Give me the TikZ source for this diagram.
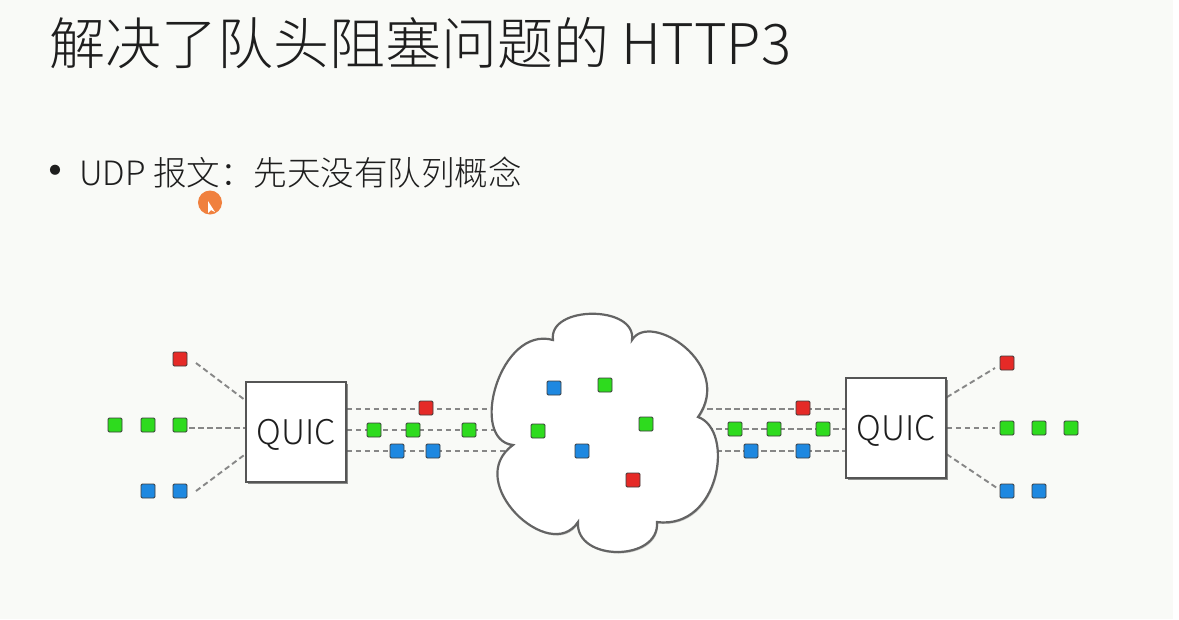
\documentclass[tikz,border=0pt]{standalone}
\usepackage{fontspec}
\setmainfont{Noto Sans CJK SC}
\newfontfamily\lightcjk{Noto Sans CJK SC Light}
\usetikzlibrary{calc,shadows}
\definecolor{bgc}{RGB}{249,250,247}
\definecolor{txtc}{RGB}{30,30,30}
\definecolor{boxc}{RGB}{85,85,85}
\definecolor{cloudc}{RGB}{100,100,100}
\definecolor{dashc}{RGB}{135,135,135}
\definecolor{pktb}{RGB}{60,60,60}
\definecolor{redc}{RGB}{229,42,39}
\definecolor{greenc}{RGB}{46,219,30}
\definecolor{bluec}{RGB}{30,136,224}
\definecolor{cursorc}{RGB}{240,128,62}
\tikzset{
  qbox/.style={draw=boxc, fill=white, line width=1.5pt, minimum width=100pt, minimum height=100pt,
    inner sep=0pt, text height=24pt, text depth=0pt, text=txtc, font=\lightcjk\fontsize{34}{40}\selectfont,
    drop shadow={shadow xshift=1.5pt, shadow yshift=-1.5pt, opacity=0.25, fill=black}},
  pkt/.style={draw=pktb, line width=0.9pt, minimum size=14pt, inner sep=0pt, rounded corners=1.2pt},
  rp/.style={pkt, fill=redc},
  gp/.style={pkt, fill=greenc},
  bp/.style={pkt, fill=bluec},
  dl/.style={draw=dashc, line width=1.9pt, dash pattern=on 5.5pt off 3.5pt},
  cloudst/.style={fill=white, draw=cloudc, line width=2.2pt,
    drop shadow={shadow xshift=1pt, shadow yshift=-1.5pt, opacity=0.2, fill=black}}
}
\begin{document}
\begin{tikzpicture}[x=1pt,y=-1pt]
\fill[bgc] (0,0) rectangle (1179,619);
\fill[white] (1173,0) rectangle (1179,619);
\useasboundingbox (0,0) rectangle (1179,619);

% title and bullet
\node[anchor=base west, inner sep=0pt, text=txtc, font=\lightcjk\fontsize{56}{60}\selectfont] (title) at (49,64) {解决了队头阻塞问题的 HTTP3};
\node[anchor=base, inner sep=0pt, text=txtc, font=\fontsize{48}{52}\selectfont] (bul) at (55,188) {•};
\node[anchor=base west, inner sep=0pt, text=txtc, font=\lightcjk\fontsize{33.5}{38}\selectfont] (btxt) at (79,185) {UDP 报文：先天没有队列概念};

% cursor
\fill[cursorc] (210,202.5) circle (12pt);
\fill[white] (208,201) -- (208,213) -- (211,210) -- (215,212) -- cycle;

% boxes (placed first for anchors; drawn again on top)
\path (296,432) node[qbox] (qa) {QUIC};
\path (896,428) node[qbox] (qb) {QUIC};

% coordinates
\coordinate (lr) at (196,363);
\coordinate (lg) at (189,428);
\coordinate (lb) at (196,491);
\coordinate (c1) at (545,409);
\coordinate (c2) at (545,430);
\coordinate (c3) at (545,451);
\coordinate (d1) at (680,409);
\coordinate (d2) at (680,429);
\coordinate (d3) at (680,451);
\coordinate (rr) at (995,368);
\coordinate (rg) at (995,428);
\coordinate (rb) at (997,488);

% left inputs
\draw[dl] (lr) -- ($(qa.north west)+(0,19)$);
\draw[dl] (lg) -- (qa.west |- lg);
\draw[dl] (lb) -- ($(qa.north west)+(0,73)$);
% left box to cloud
\draw[dl] (qa.east |- c1) -- (c1);
\draw[dl] (qa.east |- c2) -- (c2);
\draw[dl] (qa.east |- c3) -- (c3);
% cloud to right box
\draw[dl] (d1) -- (qb.west |- d1);
\draw[dl] (d2) -- (qb.west |- d2);
\draw[dl] (d3) -- (qb.west |- d3);
% right outputs
\draw[dl] ($(qb.north east)+(0,20)$) -- (rr);
\draw[dl] (qb.east |- rg) -- (rg);
\draw[dl] ($(qb.north east)+(0,77)$) -- (rb);

% cloud
\path[cloudst] (553,340) .. controls (548,305) and (637,305) .. (632,340)
  .. controls (650,310) and (735,365) .. (698,417)
  .. controls (735,430) and (720,530) .. (657,522)
  .. controls (660,562) and (575,562) .. (578,522)
  .. controls (550,565) and (462,482) .. (513,445)
  .. controls (468,440) and (500,325) .. (553,340) -- cycle;

% boxes on top
\node[qbox] at (qa) {QUIC};
\node[qbox] at (qb) {QUIC};

% left packets
\node[rp] (l1) at (180,359) {};
\node[gp] (l2) at (115,425) {};
\node[gp] (l3) at (148,425) {};
\node[gp] (l4) at (180,425) {};
\node[bp] (l5) at (148,491) {};
\node[bp] (l6) at (180,491) {};
% packets between left box and cloud
\node[rp] (m1) at (426,408) {};
\node[gp] (m2) at (374,430) {};
\node[gp] (m3) at (413,430) {};
\node[gp] (m4) at (469,430) {};
\node[bp] (m5) at (397,451) {};
\node[bp] (m6) at (433,451) {};
% packets in cloud
\node[bp] (k1) at (554,388) {};
\node[gp] (k2) at (605,385) {};
\node[gp] (k3) at (538,431) {};
\node[gp] (k4) at (646,424) {};
\node[bp] (k5) at (582,451) {};
\node[rp] (k6) at (633,480) {};
% packets between cloud and right box
\node[rp] (n1) at (803,408) {};
\node[gp] (n2) at (735,429) {};
\node[gp] (n3) at (774,429) {};
\node[gp] (n4) at (823,429) {};
\node[bp] (n5) at (751,451) {};
\node[bp] (n6) at (803,451) {};
% right packets
\node[rp] (o1) at (1007,363) {};
\node[gp] (o2) at (1007,428) {};
\node[gp] (o3) at (1039,428) {};
\node[gp] (o4) at (1071,428) {};
\node[bp] (o5) at (1007,491) {};
\node[bp] (o6) at (1039,491) {};
\end{tikzpicture}
\end{document}
